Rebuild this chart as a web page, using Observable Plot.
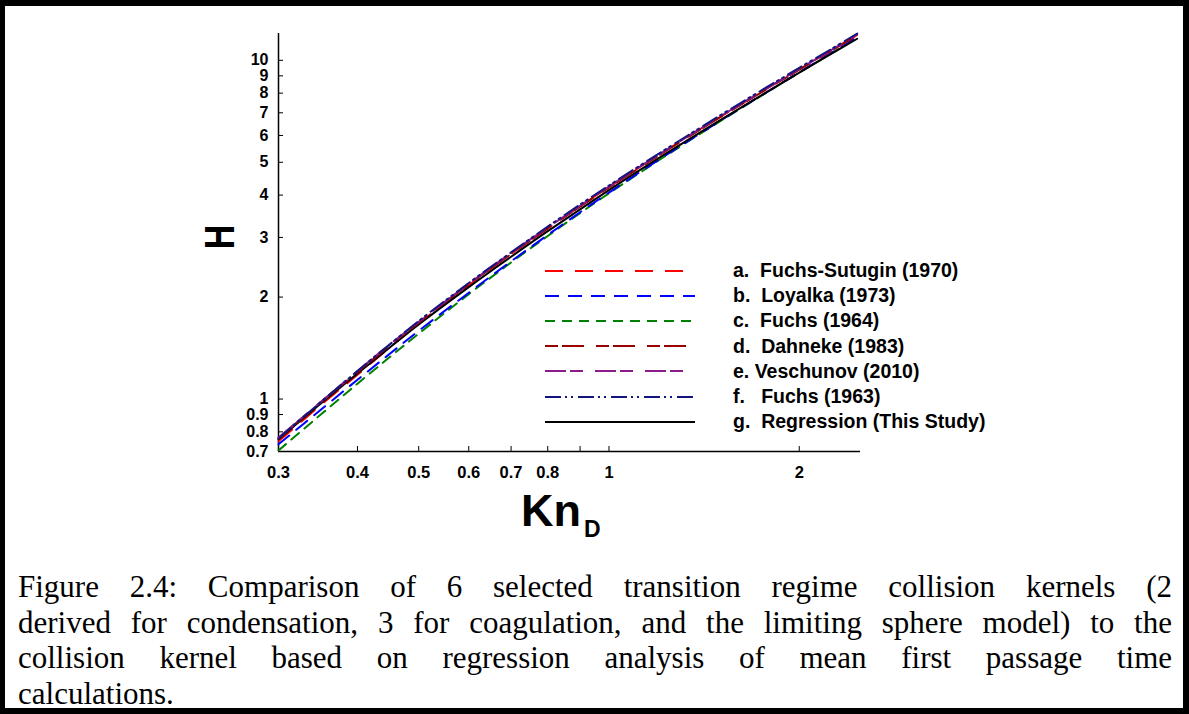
<!DOCTYPE html>
<html>
<head>
<meta charset="utf-8">
<script src="https://cdn.jsdelivr.net/npm/d3@7"></script>
<script src="https://cdn.jsdelivr.net/npm/@observablehq/plot@0.6"></script>
<style>
  html, body { margin: 0; padding: 0; background: #fff; }
  #page { position: relative; width: 1189px; height: 714px; overflow: hidden; background: #fff; }
  #frame { position: absolute; left: 0; top: 0; width: 1189px; height: 714px; box-sizing: border-box;
           border-top: 6px solid #000; border-left: 5px solid #000; border-right: 6px solid #000; border-bottom: 6px solid #000; pointer-events: none; }
  #chart { position: absolute; left: 0; top: 0; }
  .lbl { position: absolute; font-family: "Liberation Sans", Arial, sans-serif; font-weight: bold; color: #000; white-space: pre; }
  #legend { position: absolute; left: 545px; top: 258px; }
  .row { height: 25.2px; display: flex; align-items: center; }
  .row svg { width: 150px; height: 6px; display: block; }
  .row span { margin-left: 38px; font-family: "Liberation Sans", Arial, sans-serif; font-weight: bold; font-size: 19.5px; white-space: pre; }
  #caption { position: absolute; left: 18px; top: 569px; width: 1154px; font-family: "Liberation Serif", "Times New Roman", serif; font-size: 31px; line-height: 35.5px; color: #000; }
  #caption div { text-align: justify; text-align-last: justify; white-space: nowrap; }
  #caption div.last { text-align: left; text-align-last: left; }
</style>
</head>
<body>
<div id="page">
  <div id="chart"></div>
  <div class="lbl" id="ylab" style="left:199px; top:217px; font-size:34px; transform: rotate(-90deg) scaleY(1.27); transform-origin: 50% 50%; width:40px; text-align:center; line-height:40px;">H</div>
  <div class="lbl" style="left:521px; top:488px; font-size:45px; line-height:45px;">Kn</div>
  <div class="lbl" style="left:584px; top:518px; font-size:23px; line-height:23px;">D</div>
  <div id="legend"></div>
  <div id="caption">
    <div>Figure 2.4:  Comparison of 6 selected transition regime collision kernels (2</div>
    <div>derived for condensation, 3 for coagulation, and the limiting sphere model) to the</div>
    <div>collision kernel based on regression analysis of mean first passage time</div>
    <div class="last">calculations.</div>
  </div>
  <div id="frame"></div>
</div>
<script>
// ---- data ----
const knD = [0.3, 0.35, 0.4, 0.45, 0.5, 0.6, 0.7, 0.8, 0.9, 1.0, 1.25, 1.5, 1.75, 2.0, 2.25, 2.47];

const hFuchsSutugin = [0.75, 0.96, 1.18, 1.42, 1.67, 2.17, 2.68, 3.19, 3.71, 4.23, 5.52, 6.81, 8.11, 9.41, 10.72, 11.88];
const hLoyalka      = [0.735, 0.93, 1.14, 1.36, 1.59, 2.06, 2.55, 3.05, 3.56, 4.07, 5.35, 6.63, 7.92, 9.22, 10.52, 11.68];
const hFuchs1964    = [0.705, 0.90, 1.11, 1.33, 1.56, 2.04, 2.53, 3.03, 3.54, 4.05, 5.33, 6.61, 7.90, 9.20, 10.50, 11.66];
const hDahneke      = [0.765, 0.98, 1.20, 1.44, 1.68, 2.18, 2.68, 3.19, 3.70, 4.21, 5.50, 6.79, 8.08, 9.38, 10.68, 11.84];
const hVeschunov    = [0.77, 0.98, 1.21, 1.45, 1.69, 2.19, 2.70, 3.21, 3.72, 4.24, 5.53, 6.83, 8.13, 9.43, 10.74, 11.92];
const hFuchs1963    = [0.765, 0.98, 1.21, 1.45, 1.70, 2.20, 2.71, 3.23, 3.75, 4.27, 5.57, 6.88, 8.19, 9.50, 10.81, 12.0];
const hRegression   = [0.76, 0.97, 1.19, 1.42, 1.66, 2.14, 2.63, 3.13, 3.63, 4.14, 5.40, 6.66, 7.92, 9.20, 10.47, 11.58];

const xTicks = [0.3, 0.4, 0.5, 0.6, 0.7, 0.8, 0.9, 1, 2];
const yTicks = [0.7, 0.8, 0.9, 1, 2, 3, 4, 5, 6, 7, 8, 9, 10];

const seriesNames = ["a.  Fuchs-Sutugin (1970)", "b.  Loyalka (1973)", "c.  Fuchs (1964)", "d.  Dahneke (1983)", "e. Veschunov (2010)", "f.   Fuchs (1963)", "g.  Regression (This Study)"];
const seriesValues = [hFuchsSutugin, hLoyalka, hFuchs1964, hDahneke, hVeschunov, hFuchs1963, hRegression];

// ---- styles ----
const seriesColors = ["#ff0000", "#0000ff", "#008000", "#990000", "#8b1a8b", "#14147f", "#000000"];
const seriesDash = ["18,12", "14,9", "10,7", "13,4,22,12", "21,4,13,12", "16,4,2,4,2,5", null];
const drawOrder = [2, 1, 0, 6, 3, 4, 5];

const W = 1189, H = 540;
const mL = 278, mR = 329, mT = 33, mB = 89;
const plotW = W - mL - mR, plotH = H - mT - mB;

const lineMarks = drawOrder.map(i => {
  const rows = knD.map((k, j) => ({kn: k, h: seriesValues[i][j]}));
  const opts = {x: "kn", y: "h", stroke: seriesColors[i], strokeWidth: 2, curve: "catmull-rom"};
  if (seriesDash[i]) opts.strokeDasharray = seriesDash[i];
  return Plot.line(rows, opts);
});

const chart = Plot.plot({
  width: W, height: H,
  marginLeft: mL, marginRight: mR, marginTop: mT, marginBottom: mB,
  x: {type: "log", domain: [0.3, 2.5]},
  y: {type: "log", domain: [0.7, 12]},
  style: {fontFamily: "'Liberation Sans', Arial, sans-serif", fontSize: "16px", fontWeight: "bold", color: "#000", background: "transparent", overflow: "visible"},
  marks: [
    Plot.axisX(xTicks, {tickSize: 0, tickPadding: 15, tickFormat: d => String(d), label: null, fontWeight: "bold", fontSize: 16.5}),
    Plot.axisY(yTicks, {tickSize: 0, tickPadding: 10, tickFormat: d => String(d), label: null, fontWeight: "bold", fontSize: 16}),
    Plot.tickX(xTicks, {x: d => d, insetTop: plotH - 5, stroke: "#000", strokeWidth: 1}),
    Plot.tickY(yTicks, {y: d => d, insetRight: plotW - 5, stroke: "#000", strokeWidth: 1}),
    Plot.ruleX([0.3], {stroke: "#000", strokeWidth: 1.5}),
    Plot.ruleY([0.7], {stroke: "#000", strokeWidth: 1.5}),
    ...lineMarks
  ]
});
document.getElementById("chart").appendChild(chart);

// ---- legend ----
const legend = document.getElementById("legend");
seriesNames.forEach((name, i) => {
  const row = document.createElement("div");
  row.className = "row";
  const dash = seriesDash[i] ? `stroke-dasharray="${seriesDash[i]}"` : "";
  row.innerHTML = `<svg viewBox="0 0 150 6"><line x1="0" y1="3" x2="150" y2="3" stroke="${seriesColors[i]}" stroke-width="2" ${dash}/></svg><span>${name}</span>`;
  legend.appendChild(row);
});
</script>
</body>
</html>
